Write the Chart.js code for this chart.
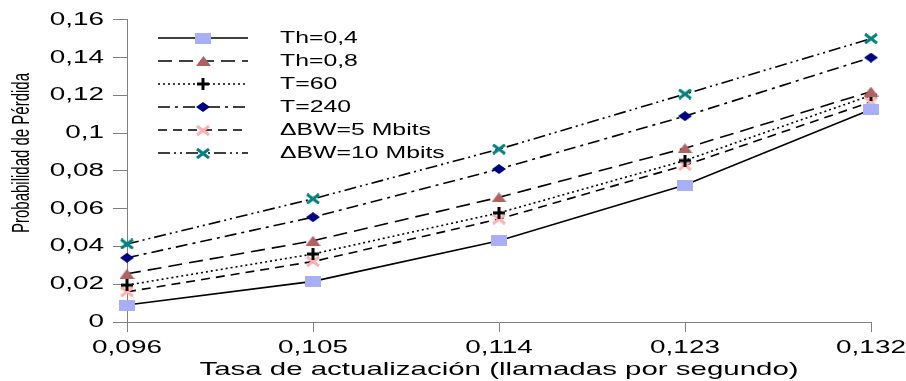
<!DOCTYPE html>
<html>
<head>
<meta charset="utf-8">
<script src="https://cdn.jsdelivr.net/npm/chart.js@4.4.1/dist/chart.umd.min.js"></script>
<style>
  html, body { margin: 0; padding: 0; background: #fff; }
  #wrap { position: relative; width: 906px; height: 381px; }
</style>
</head>
<body>
<div id="wrap"><canvas id="chart"></canvas></div>
<script>
// x categories (update rate, calls per second)
const categories = ['0,096', '0,105', '0,114', '0,123', '0,132'];

// loss probability per series
const th04 = [0.009, 0.0215, 0.043, 0.0725, 0.1125];
const th08 = [0.0255, 0.043, 0.066, 0.092, 0.122];
const t60 = [0.0195, 0.036, 0.0578, 0.0855, 0.120];
const t240 = [0.034, 0.0555, 0.081, 0.109, 0.140];
const bw5 = [0.016, 0.032, 0.0545, 0.083, 0.1165];
const bw10 = [0.0413, 0.0652, 0.0915, 0.1207, 0.150];

const seriesLabels = ['Th=0,4', 'Th=0,8', 'T=60', 'T=240', '\u0394BW=5 Mbits', '\u0394BW=10 Mbits'];

const yMin = 0, yMax = 0.16, yStep = 0.02;

const axisColor = '#808080';
const fontFamily = '"Liberation Sans", Arial, sans-serif';
const stretchX = 1.55; // the original text is drawn wide

// small marker images (the original's markers are wider than tall)
function makeMarker(w, h, draw) {
  const c = document.createElement('canvas');
  c.width = w; c.height = h;
  draw(c.getContext('2d'), w, h);
  return c;
}
const squareImg = makeMarker(16, 11, (g, w, h) => { g.fillStyle = '#a9aff7'; g.fillRect(0, 0, w, h); });
const triangleImg = makeMarker(15, 10, (g, w, h) => {
  g.fillStyle = '#b06262';
  g.beginPath(); g.moveTo(w / 2, 0); g.lineTo(w, h); g.lineTo(0, h); g.closePath(); g.fill();
});
const diamondImg = makeMarker(14, 10, (g, w, h) => {
  g.fillStyle = '#000080';
  g.beginPath(); g.moveTo(w / 2, 0); g.lineTo(w, h / 2); g.lineTo(w / 2, h); g.lineTo(0, h / 2); g.closePath(); g.fill();
});
const plusImg = makeMarker(12, 12, (g, w, h) => {
  g.fillStyle = '#000';
  g.fillRect(0, h / 2 - 1.5, w, 3); g.fillRect(w / 2 - 1.5, 0, 3, h);
});
function xImg(color) {
  return makeMarker(14, 11, (g, w, h) => {
    g.strokeStyle = color; g.lineWidth = 3; g.lineCap = 'butt';
    g.beginPath(); g.moveTo(1, 1); g.lineTo(w - 1, h - 1); g.moveTo(w - 1, 1); g.lineTo(1, h - 1); g.stroke();
  });
}
const pinkXImg = xImg('#ffb0b0');
const tealXImg = xImg('#008080');

function series(label, data, dash, img) {
  return {
    label: label,
    data: data,
    borderColor: '#000',
    borderWidth: 1.6,
    borderDash: dash,
    fill: false,
    tension: 0,
    pointStyle: img,
    pointRadius: 7,
    pointHoverRadius: 7
  };
}

const datasets = [
  series(seriesLabels[0], th04, [], squareImg),
  series(seriesLabels[1], th08, [14, 7], triangleImg),
  series(seriesLabels[2], t60, [2, 3], plusImg),
  series(seriesLabels[3], t240, [12, 5, 3, 5], diamondImg),
  series(seriesLabels[4], bw5, [9, 6], pinkXImg),
  series(seriesLabels[5], bw10, [12, 4, 2, 4, 2, 4], tealXImg)
];

// stretch every text horizontally (in page space) around its anchor point
const stretchPlugin = {
  id: 'stretchText',
  beforeDraw(chart) {
    const ctx = chart.ctx;
    if (ctx._stretched) return;
    const orig = ctx.fillText;
    ctx.fillText = function (text, x, y, maxW) {
      const t = this.getTransform();
      const p = t.transformPoint(new DOMPoint(x, y));
      const s = new DOMMatrix([stretchX, 0, 0, 1, p.x * (1 - stretchX), 0]);
      this.setTransform(s.multiply(t));
      if (maxW === undefined) orig.call(this, text, x, y); else orig.call(this, text, x, y, maxW);
      this.setTransform(t);
    };
    ctx._stretched = true;
  }
};

// legend: line sample with its marker, plus the rotated y title
const legendPlugin = {
  id: 'lineLegend',
  afterDraw(chart) {
    const ctx = chart.ctx;
    ctx.save();
    chart.data.datasets.forEach((ds, i) => {
      const y = 38 + i * 23;
      ctx.strokeStyle = '#000';
      ctx.lineWidth = 1.6;
      ctx.setLineDash(ds.borderDash);
      ctx.beginPath();
      ctx.moveTo(158, y);
      ctx.lineTo(248, y);
      ctx.stroke();
      ctx.setLineDash([]);
      const img = ds.pointStyle;
      ctx.drawImage(img, Math.round(203 - img.width / 2), Math.round(y - img.height / 2));
      ctx.fillStyle = '#000';
      ctx.font = '16px ' + fontFamily;
      ctx.textAlign = 'left';
      ctx.textBaseline = 'middle';
      ctx.fillText(ds.label, 280, y + 1);
    });

    ctx.translate(23, 153);
    ctx.rotate(-Math.PI / 2);
    ctx.font = '15px ' + fontFamily;
    ctx.textAlign = 'center';
    ctx.textBaseline = 'middle';
    ctx.fillStyle = '#000';
    ctx.fillText('Probabilidad de P\u00e9rdida', 0, 0);
    ctx.restore();
  }
};

new Chart(document.getElementById('chart'), {
  type: 'line',
  data: { labels: categories, datasets: datasets },
  plugins: [stretchPlugin, legendPlugin],
  options: {
    responsive: true,
    maintainAspectRatio: false,
    animation: false,
    layout: { padding: { left: 0, right: 35, top: 12, bottom: 0 } },
    plugins: {
      legend: { display: false },
      tooltip: { enabled: false }
    },
    scales: {
      x: {
        type: 'category',
        offset: false,
        grid: { drawOnChartArea: false, drawTicks: true, tickLength: 10, color: axisColor },
        border: { color: axisColor, width: 1 },
        ticks: { color: '#000', font: { family: fontFamily, size: 18 }, maxRotation: 0, padding: 5 },
        title: {
          display: true,
          text: 'Tasa de actualizaci\u00f3n (llamadas por segundo)',
          color: '#000',
          font: { family: fontFamily, size: 19 },
          padding: { top: 0, bottom: 0 }
        },
        afterFit(scale) { scale.height = 59; }
      },
      y: {
        min: yMin,
        max: yMax,
        grid: { drawOnChartArea: false, drawTicks: true, tickLength: 14, color: axisColor },
        border: { color: axisColor, width: 1 },
        ticks: {
          stepSize: yStep,
          color: '#000',
          font: { family: fontFamily, size: 18 },
          padding: 9,
          callback: (v) => String(Math.round(v * 100) / 100).replace('.', ',')
        },
        afterFit(scale) { scale.width = 127; }
      }
    }
  }
});
</script>
</body>
</html>
